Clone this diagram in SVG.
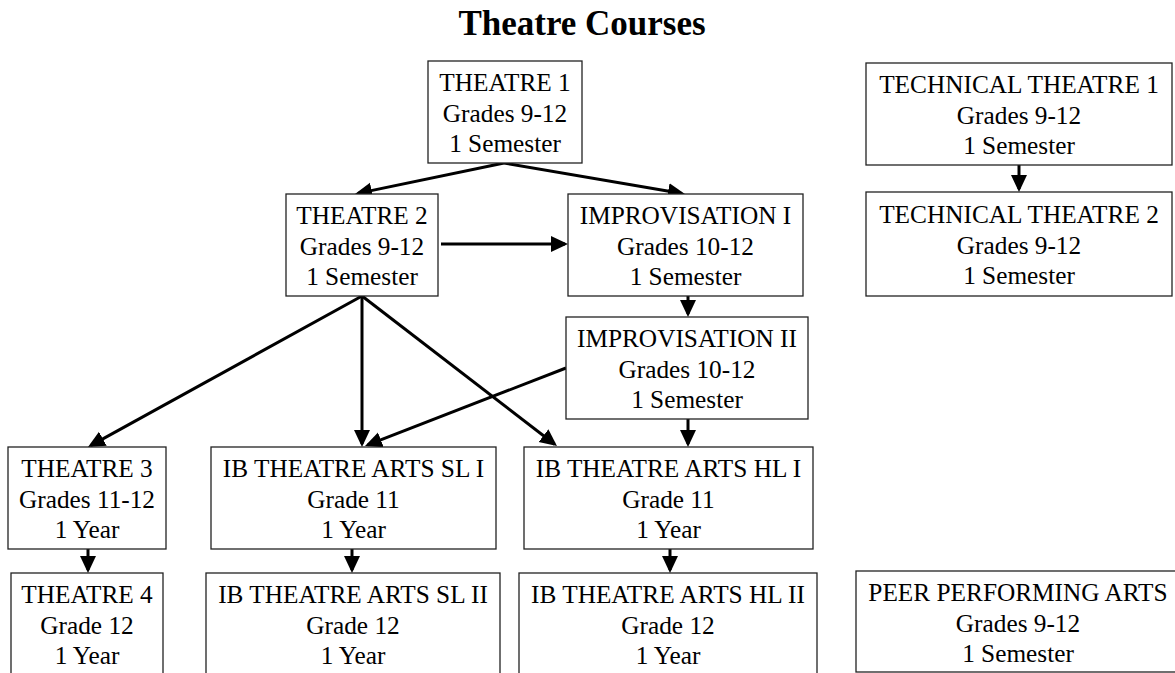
<svg xmlns="http://www.w3.org/2000/svg" width="1175" height="673" viewBox="0 0 1175 673">
<style>
.box{fill:#fff;stroke:#222;stroke-width:1.3}
.t{font-family:"Liberation Serif","Times New Roman",serif;font-size:25.3px;fill:#000;text-anchor:middle}
.title{font-family:"Liberation Serif","Times New Roman",serif;font-size:35px;font-weight:bold;fill:#000;text-anchor:middle}
.c{stroke:#000;stroke-width:3;fill:none;marker-end:url(#ah)}
</style>
<defs>
<marker id="ah" markerUnits="userSpaceOnUse" markerWidth="18" markerHeight="17" refX="14" refY="8" orient="auto">
<path d="M0,0 L17,8 L0,16 Z" fill="#000"/>
</marker>
</defs>
<rect width="1175" height="673" fill="#fff"/>
<text class="title" x="582" y="35">Theatre Courses</text>

<g id="connectors">
<line class="c" x1="504" y1="163" x2="357.9" y2="193.4"/>
<line class="c" x1="504" y1="163" x2="682" y2="193.5"/>
<line class="c" x1="441" y1="244" x2="565" y2="244"/>
<line class="c" x1="688" y1="296" x2="688" y2="314"/>
<line class="c" x1="688" y1="419" x2="688" y2="444"/>
<line class="c" x1="362" y1="296" x2="90.6" y2="445.6"/>
<line class="c" x1="362" y1="296" x2="362" y2="444"/>
<line class="c" x1="362" y1="296" x2="554.6" y2="444.2"/>
<line class="c" x1="566" y1="368" x2="367.8" y2="444.9"/>
<line class="c" x1="88" y1="549" x2="88" y2="570"/>
<line class="c" x1="352" y1="549" x2="352" y2="570"/>
<line class="c" x1="670" y1="549" x2="670" y2="570"/>
<line class="c" x1="1019" y1="165" x2="1019" y2="189"/>
</g>

<g id="theatre1">
<rect class="box" x="428" y="61" width="154" height="102"/>
<text class="t" x="505" y="91">THEATRE 1</text>
<text class="t" x="505" y="121.5">Grades 9-12</text>
<text class="t" x="505" y="152">1 Semester</text>
</g>
<g id="theatre2">
<rect class="box" x="286" y="194" width="152" height="102"/>
<text class="t" x="362" y="224">THEATRE 2</text>
<text class="t" x="362" y="254.5">Grades 9-12</text>
<text class="t" x="362" y="285">1 Semester</text>
</g>
<g id="improv1">
<rect class="box" x="568" y="194" width="235" height="102"/>
<text class="t" x="685.5" y="224">IMPROVISATION I</text>
<text class="t" x="685.5" y="254.5">Grades 10-12</text>
<text class="t" x="685.5" y="285">1 Semester</text>
</g>
<g id="improv2">
<rect class="box" x="566" y="317" width="242" height="102"/>
<text class="t" x="687" y="347">IMPROVISATION II</text>
<text class="t" x="687" y="377.5">Grades 10-12</text>
<text class="t" x="687" y="408">1 Semester</text>
</g>
<g id="tech1">
<rect class="box" x="866" y="63" width="306" height="102"/>
<text class="t" x="1019" y="93">TECHNICAL THEATRE 1</text>
<text class="t" x="1019" y="123.5">Grades 9-12</text>
<text class="t" x="1019" y="154">1 Semester</text>
</g>
<g id="tech2">
<rect class="box" x="866" y="192" width="306" height="104"/>
<text class="t" x="1019" y="223">TECHNICAL THEATRE 2</text>
<text class="t" x="1019" y="253.5">Grades 9-12</text>
<text class="t" x="1019" y="284">1 Semester</text>
</g>
<g id="theatre3">
<rect class="box" x="8" y="447" width="158" height="102"/>
<text class="t" x="87" y="477">THEATRE 3</text>
<text class="t" x="87" y="507.5">Grades 11-12</text>
<text class="t" x="87" y="538">1 Year</text>
</g>
<g id="ibsl1">
<rect class="box" x="211" y="447" width="285" height="102"/>
<text class="t" x="353.5" y="477">IB THEATRE ARTS SL I</text>
<text class="t" x="353.5" y="507.5">Grade 11</text>
<text class="t" x="353.5" y="538">1 Year</text>
</g>
<g id="ibhl1">
<rect class="box" x="524" y="447" width="289" height="102"/>
<text class="t" x="668.5" y="477">IB THEATRE ARTS HL I</text>
<text class="t" x="668.5" y="507.5">Grade 11</text>
<text class="t" x="668.5" y="538">1 Year</text>
</g>
<g id="theatre4">
<rect class="box" x="11" y="573" width="152" height="110"/>
<text class="t" x="87" y="603">THEATRE 4</text>
<text class="t" x="87" y="633.5">Grade 12</text>
<text class="t" x="87" y="664">1 Year</text>
</g>
<g id="ibsl2">
<rect class="box" x="206" y="573" width="294" height="110"/>
<text class="t" x="353" y="603">IB THEATRE ARTS SL II</text>
<text class="t" x="353" y="633.5">Grade 12</text>
<text class="t" x="353" y="664">1 Year</text>
</g>
<g id="ibhl2">
<rect class="box" x="519" y="573" width="298" height="110"/>
<text class="t" x="668" y="603">IB THEATRE ARTS HL II</text>
<text class="t" x="668" y="633.5">Grade 12</text>
<text class="t" x="668" y="664">1 Year</text>
</g>
<g id="peer">
<rect class="box" x="856" y="571" width="330" height="101"/>
<text class="t" x="1018" y="601">PEER PERFORMING ARTS</text>
<text class="t" x="1018" y="631.5">Grades 9-12</text>
<text class="t" x="1018" y="662">1 Semester</text>
</g>
</svg>
